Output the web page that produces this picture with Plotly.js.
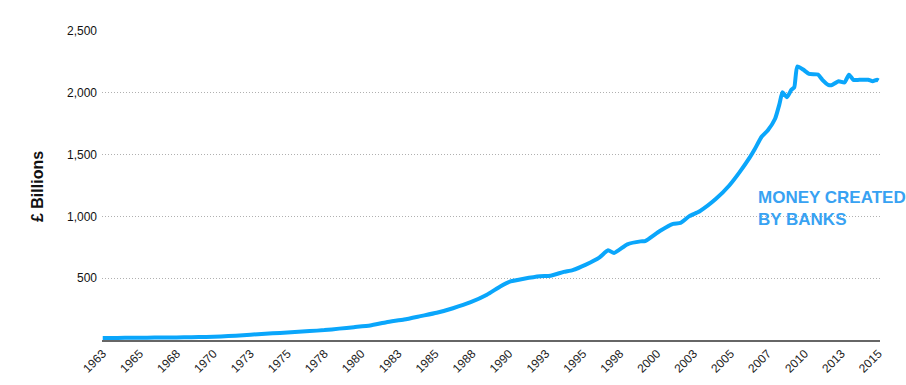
<!DOCTYPE html>
<html>
<head>
<meta charset="utf-8">
<script src="https://cdn.plot.ly/plotly-3.0.1.min.js"></script>
<style>
html,body{margin:0;padding:0;background:#fff;}
#chart{width:906px;height:385px;}
</style>
</head>
<body>
<div id="chart"></div>
<script>
// Time (decimal years) and money created by banks (£ billions)
const years = [1963.0,1964.0,1965.0,1966.0,1967.0,1968.0,1969.0,1970.0,1971.0,1972.0,
  1973.0,1974.0,1975.0,1976.0,1977.0,1978.0,1979.0,1980.0,1981.1,1982.2,
  1983.4,1984.5,1985.6,1986.7,1987.9,1989.0,1989.9,1990.6,1991.5,1992.6,
  1993.3,1994.2,1994.8,1995.7,1996.6,1997.2,1997.6,1998.5,1999.4,1999.7,
  2000.7,2001.6,2002.1,2002.7,2003.4,2004.5,2005.4,2006.1,2006.8,2007.1,
  2007.6,2008.0,2008.5,2008.8,2009.0,2009.3,2009.6,2009.8,2010.0,2010.4,
  2010.8,2011.4,2011.7,2012.1,2012.3,2012.8,2013.2,2013.5,2013.8,2014.2,
  2014.8,2015.1,2015.4,2015.5];
const moneyCreated = [16,17,18,19,20,21,22,25,29,35,
  43,51,57,65,72,80,92,104,117,144,
  166,193,220,257,306,366,433,474,496,516,
  520,551,566,610,666,726,704,774,798,800,
  882,940,947,1002,1042,1142,1250,1358,1479,1539,
  1646,1695,1790,1911,2005,1964,2024,2045,2213,2188,
  2153,2148,2105,2064,2061,2094,2083,2146,2105,2105,
  2105,2094,2105,2099];

const tickPositions = [1963,1965.5,1968,1970.5,1973,1975.5,1978,1980.5,1983,1985.5,
  1988,1990.5,1993,1995.5,1998,2000.5,2003,2005.5,2008,2010.5,2013,2015.5];
const tickLabels = ["1963","1965","1968","1970","1973","1975","1978","1980","1983","1985",
  "1988","1990","1993","1995","1998","2000","2003","2005","2007","2010","2013","2015"];
const yTicks = [500,1000,1500,2000,2500];
const yTickLabels = ["500","1,000","1,500","2,000","2,500"];
const seriesLabel = "MONEY CREATED<br>BY BANKS";
const yTitle = "£ Billions";

const FONT = "Arial, 'Liberation Sans', Helvetica, sans-serif";

const trace = {
  x: years,
  y: moneyCreated,
  type: 'scatter',
  mode: 'lines',
  line: {color: '#0aa6fb', width: 4, shape: 'spline', smoothing: 0.5},
  hoverinfo: 'skip'
};

const layout = {
  width: 906,
  height: 385,
  margin: {l: 102, r: 26, t: 31, b: 45},
  paper_bgcolor: '#fff',
  plot_bgcolor: '#fff',
  showlegend: false,
  font: {family: FONT, color: '#111', size: 12},
  xaxis: {
    range: [1962.95, 2015.6],
    tickmode: 'array',
    tickvals: tickPositions,
    ticktext: tickLabels,
    tickangle: -45,
    tickfont: {family: FONT, size: 12, color: '#222'},
    showgrid: false,
    zeroline: false,
    showline: true,
    linecolor: '#666',
    linewidth: 2,
    ticks: '',
    fixedrange: true
  },
  yaxis: {
    range: [0, 2500],
    tickmode: 'array',
    tickvals: yTicks,
    ticktext: yTickLabels,
    tickfont: {family: FONT, size: 12, color: '#111'},
    showgrid: true,
    gridcolor: '#b0b0b0',
    griddash: '1px,2px',
    gridwidth: 1,
    zeroline: false,
    showline: false,
    ticks: '',
    ticklabelstandoff: 4,
    fixedrange: true
  },
  annotations: [
    {
      xref: 'paper', yref: 'paper',
      x: (37 - 102) / 778, y: 0.495,
      xanchor: 'center', yanchor: 'middle',
      text: '<b>' + yTitle + '</b>',
      textangle: -90,
      showarrow: false,
      font: {family: FONT, size: 16, color: '#111'}
    },
    {
      xref: 'paper', yref: 'paper',
      x: (756 - 102) / 778, y: (340 - 186) / 309,
      xanchor: 'left', yanchor: 'top',
      align: 'left',
      text: '<b>' + seriesLabel + '</b>',
      showarrow: false,
      font: {family: FONT, size: 17, color: '#38a2f2'}
    }
  ]
};

Plotly.newPlot('chart', [trace], layout, {displayModeBar: false, staticPlot: true});
</script>
</body>
</html>
